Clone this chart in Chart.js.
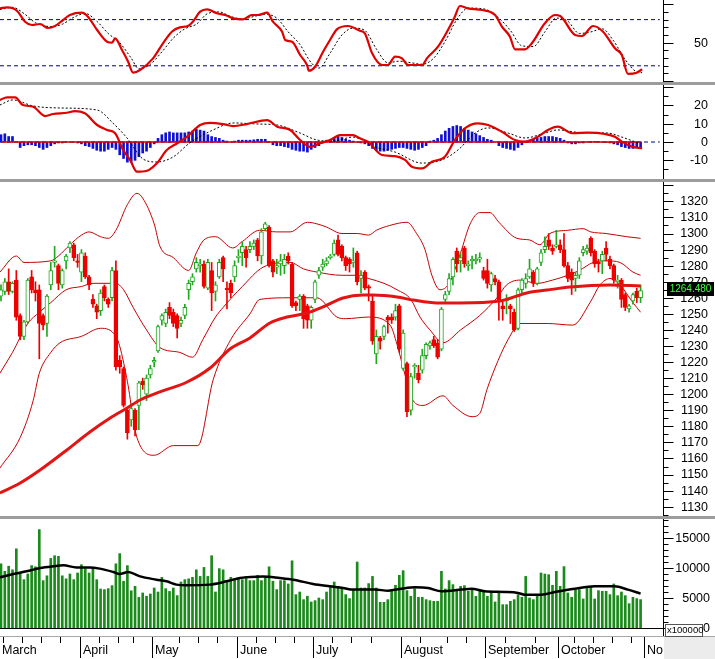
<!DOCTYPE html>
<html>
<head>
<meta charset="utf-8">
<script src="https://cdn.jsdelivr.net/npm/chart.js@4.4.1/dist/chart.umd.min.js"></script>
<style>
  html, body { margin: 0; padding: 0; background: #fff; }
  #wrap { position: relative; width: 715px; height: 659px; overflow: hidden; background: #fff; }
  #wrap canvas { position: absolute; left: 0; }
  .sep { position: absolute; left: 0; width: 715px; height: 3px; background: #9c9c9c; }
</style>
</head>
<body>
<div id="wrap">
  <canvas id="stoch" width="715" height="82" style="top:0px"></canvas>
  <div class="sep" style="top:82px"></div>
  <canvas id="macd" width="715" height="94" style="top:85px"></canvas>
  <div class="sep" style="top:179px"></div>
  <canvas id="price" width="715" height="334" style="top:182px"></canvas>
  <div class="sep" style="top:516px"></div>
  <canvas id="volume" width="715" height="140" style="top:519px"></canvas>
</div>
<script>
// ---- data (bar index 0 = first trading day of March) ----
const opens = [1261,1264,1270,1264,1271,1249,1236,1245,1273,1265,1265,1249,1244,1268,1282,1280,1268,1283,1291,1293,
  1283,1276,1286,1273,1259,1255,1252,1267,1259,1260,1277,1221,1216,1190,1184,1190,1193,1208,1200,1212,
  1220,1227,1246,1244,1254,1251,1249,1244,1249,1265,1270,1278,1280,1281,1266,1277,1264,1273,1285,1266,
  1269,1273,1285,1288,1290,1290,1292,1296,1286,1303,1304,1283,1279,1281,1280,1286,1281,1257,1259,1261,
  1255,1246,1259,1274,1279,1281,1285,1287,1296,1292,1285,1284,1282,1288,1272,1276,1267,1258,1225,1235,
  1236,1248,1248,1248,1255,1216,1219,1190,1217,1213,1215,1224,1230,1234,1232,1228,1259,1264,1273,1289,
  1283,1291,1280,1283,1283,1284,1277,1277,1268,1272,1270,1255,1258,1255,1251,1241,1265,1269,1273,1276,
  1269,1282,1290,1296,1291,1292,1293,1290,1280,1276,1272,1274,1288,1289,1297,1289,1282,1283,1291,1284,
  1280,1270,1271,1262,1253,1258,1264,1260];
const highs = [1268,1272,1278,1270,1277,1250,1246,1272,1277,1270,1268,1250,1262,1282,1292,1281,1278,1287,1295,1294,
  1287,1290,1288,1274,1262,1256,1265,1268,1260,1279,1283,1224,1217,1191,1194,1191,1208,1210,1212,1218,
  1223,1243,1250,1253,1257,1253,1250,1248,1256,1271,1275,1285,1284,1283,1284,1282,1270,1284,1286,1270,
  1271,1283,1290,1295,1292,1295,1296,1297,1303,1307,1305,1284,1284,1287,1287,1288,1282,1258,1262,1262,
  1256,1255,1271,1279,1284,1285,1287,1296,1299,1293,1286,1285,1291,1289,1277,1277,1268,1262,1240,1236,
  1243,1249,1250,1256,1256,1240,1220,1213,1219,1218,1228,1232,1233,1236,1234,1254,1264,1275,1285,1291,
  1288,1292,1283,1286,1287,1288,1279,1284,1276,1274,1271,1258,1262,1256,1253,1266,1272,1275,1284,1277,
  1279,1290,1298,1300,1293,1302,1296,1300,1282,1278,1276,1285,1292,1293,1298,1290,1284,1289,1295,1286,
  1281,1274,1272,1263,1256,1263,1266,1268];
const lows = [1258,1262,1262,1263,1246,1234,1234,1244,1263,1258,1222,1240,1236,1265,1279,1265,1266,1278,1288,1283,
  1279,1270,1272,1265,1254,1247,1249,1258,1254,1258,1215,1213,1192,1172,1180,1174,1178,1203,1196,1210,
  1217,1226,1243,1242,1247,1242,1235,1242,1247,1259,1268,1276,1276,1266,1265,1252,1258,1272,1270,1253,
  1260,1270,1282,1280,1279,1288,1290,1283,1281,1302,1279,1273,1275,1274,1275,1281,1254,1252,1252,1241,
  1241,1241,1257,1272,1277,1280,1284,1286,1286,1283,1277,1276,1279,1268,1263,1265,1258,1231,1219,1228,
  1234,1238,1244,1246,1226,1215,1186,1187,1210,1207,1213,1222,1228,1229,1222,1227,1257,1262,1268,1276,
  1276,1279,1277,1278,1281,1282,1271,1266,1264,1268,1246,1246,1250,1244,1239,1240,1263,1266,1272,1267,
  1268,1280,1288,1290,1287,1291,1288,1279,1270,1262,1264,1272,1286,1287,1286,1279,1276,1275,1283,1278,
  1269,1266,1254,1252,1251,1256,1257,1257];
const closes = [1265,1270,1264,1269,1248,1236,1245,1271,1265,1263,1244,1243,1261,1277,1283,1269,1277,1286,1294,1285,
  1282,1288,1273,1268,1256,1251,1263,1260,1256,1277,1217,1217,1193,1176,1191,1178,1207,1206,1210,1216,
  1221,1242,1249,1251,1249,1244,1241,1246,1254,1269,1273,1282,1281,1267,1282,1263,1268,1282,1278,1265,
  1263,1280,1286,1292,1285,1292,1294,1286,1301,1306,1280,1276,1280,1283,1284,1283,1255,1255,1261,1247,
  1246,1254,1270,1277,1281,1283,1286,1294,1287,1285,1280,1281,1283,1270,1274,1266,1266,1233,1236,1233,
  1242,1246,1246,1252,1228,1238,1189,1211,1218,1209,1224,1231,1232,1230,1223,1253,1262,1272,1284,1281,
  1285,1281,1281,1284,1284,1285,1272,1269,1275,1270,1258,1253,1259,1253,1240,1265,1271,1272,1278,1269,
  1278,1288,1292,1292,1289,1293,1290,1280,1272,1271,1274,1283,1290,1291,1288,1281,1281,1287,1287,1280,
  1271,1271,1259,1254,1255,1262,1260,1264.48];

const volumes = [10700,9450,10300,9700,13200,9300,8060,9000,10400,10200,16400,7900,8700,11600,12050,11950,8700,8200,9000,8060,
  9170,10550,9900,9170,10100,8060,6500,6400,6560,7060,10700,12400,7800,10400,6200,6950,5100,5840,5300,5670,
  6670,6000,8450,6560,6100,6670,5400,7670,8060,8200,8450,9700,8600,10100,8600,12050,6000,9900,9700,7800,
  8450,8200,8170,8060,8600,7900,7900,8780,7900,8600,10200,7800,6400,7900,7900,7340,11200,5560,6000,4730,
  5300,4340,4560,5000,4730,6000,6780,7670,6950,6560,5560,4900,6400,11000,
  6670,6670,7400,8600,6670,4280,4280,4730,6230,7120,8780,9560,6230,5280,6560,5120,5120,4730,4560,4450,
  4450,9450,6500,7900,7230,6120,6950,7060,6120,6560,5280,6230,6120,5280,6120,4340,6000,3890,3890,4450,
  4730,5560,5120,8600,5000,4730,5280,9170,9000,8890,7120,9450,6950,10230,5840,5120,6400,6400,4840,6670,
  6950,4840,6230,6120,6120,5560,7340,5390,6000,5390,4060,5120,4900,4730];

const macdHist = [4,4.5,3,3,0,-3,-2,-1.5,-1.5,-2,-3,-4,-3,-2,-1,-0.5,-0.5,0,0,0,
  -0.5,-1,-2,-2.5,-3.5,-4.5,-5,-5,-4,-3,-4,-7,-9,-11,-11,-10,-8,-6,-5,-3,
  -1,2,4,5,5.5,5,5,5,5,5.5,6,7,6.5,6,4,3,2.5,2,1,0.5,
  0,0.5,1,1,1,1,1.2,1.5,1.5,1.5,0,-1.5,-2,-2,-2.5,-3,-4,-4.5,-5,-5,
  -5.5,-4,-3,-2,-0.5,1,1.5,2.5,3,2.5,1.5,1,0.5,
  0,-0.5,-1,-2,-3.5,-4.5,-5,-5,-4.5,-4,-3.5,-3,-3,-3.5,-4,-4.5,-4,-3,-2,
  0.5,1,2,4,6,7.5,8.5,9,8.5,7.5,6.5,5.5,4.5,3.5,2.5,1.5,1,0,
  -2,-3,-3.5,-4,-4.5,-3,-1.5,0.5,1,1.5,2,2.5,3,3,3,2.5,2,1,
  -0.5,-1,-1,-0.5,-0.5,0,0.3,0.3,0.3,0,-0.3,-0.5,-1,-1.5,-2.5,-3,-3.5,-3.5,-3,-3];

// indicator lines: [bar index, value]
const bbUpper = [[-0.3,1276],[4,1286],[6,1282],[13,1283],[15,1286],[18,1293],[21,1299],[23,1301],[26,1298],[28,1297],
  [30,1302],[33,1318],[35.5,1325],[37,1322],[40,1306],[41.5,1292],[45,1285],[49,1277],[51,1288],[53,1296],[56,1298],
  [60.5,1291],[63,1295],[67.5,1302],[72,1301],[75.5,1301],[80,1307],[82.5,1306],[85,1304],[89,1300],[93,1300],
  [96,1299],[98,1302],[101.5,1305],[106,1307],[108.5,1300],[110.7,1290],[112.5,1274],[114.6,1265],[117,1269],
  [120,1288],[122.5,1306],[125,1313],[127.7,1313],[130,1307],[134.7,1297],[138,1296],[140.7,1293],[143.3,1300],
  [148,1302],[152,1303],[154,1301],[158,1300],[163.4,1298],[167,1297]];
const bbMiddle = [[-0.3,1213],[3,1226],[7,1244],[10,1251],[13,1257],[17,1265],[21,1267],[24,1269],[30,1269],[32,1265],
  [34.5,1254],[38,1240],[41.5,1229],[46.7,1226],[50,1223],[52.7,1234],[56,1248],[58,1254],[63,1267],[68.4,1279],
  [75.5,1282],[79,1278],[82.5,1276],[89,1274],[93,1274],[96,1272],[100,1269],[103.4,1265],[107,1259],[109.4,1248],
  [112,1240],[115.4,1232],[120,1240],[125,1249],[129.5,1260],[132,1268],[135.5,1271],[140,1269],[144,1271],
  [148,1274],[151,1277],[154.6,1282],[158,1283],[161.6,1282],[165,1276],[167,1274]];
const bbLower = [[-0.3,1154],[5,1173],[8.4,1196],[10,1213],[13,1226],[15.4,1232],[21,1236],[26,1241],[30,1236],
  [33,1208],[34.5,1185],[35.5,1173],[40,1162],[45,1168],[51.4,1168],[55.4,1209],[60,1234],[65,1250],[67.6,1259],
  [75.5,1260],[82.5,1260],[87.7,1248],[90,1247],[96,1248],[101.6,1243],[103.4,1231],[105.5,1212],[107.6,1196],
  [110.2,1193],[115.4,1199],[118,1193],[123,1186],[125,1188],[126.9,1203],[129.8,1221],[132.4,1234],[135.5,1244],
  [142.6,1244],[149.3,1243],[153.8,1257],[156.4,1268],[159,1272],[161.6,1268],[165,1257],[167,1251]];
const ma100 = [[-0.3,1138.5],[5,1144.7],[10.2,1152.8],[17.2,1165.3],[23.2,1176.5],[28.5,1185.2],[32.9,1191.4],
  [36.3,1196.4],[41.5,1201.4],[48.6,1207.6],[54.6,1216.3],[59.8,1228.1],[65,1235],[70.2,1244.3],[74.7,1248],
  [79.9,1250.5],[84.1,1254.3],[89.3,1259.9],[94.5,1261.7],[97.1,1261.7],[103.4,1260.5],[107.6,1258.6],
  [113.8,1256.8],[119.8,1256.8],[130.3,1258],[137.3,1263],[142.6,1264.8],[148.6,1266.7],[159,1268],[167,1267.3]];

const stochK = [[-0.3,94.7],[1.6,96],[3.1,94.7],[4.4,90.3],[6.3,77.3],[8.1,73],[10.2,74.3],[12.3,69.1],[14.1,71.7],
  [16.2,79.5],[18,86],[21.1,89],[22.7,83.8],[25.1,66.5],[27.7,51.3],[29,50],[29.8,55.7],[31.6,40.5],[33.2,25.3],
  [34.5,11],[36.3,14.5],[39.7,29.7],[42.3,49.2],[44.6,64.3],[46.7,70],[48.8,71.7],[50.1,77.3],[52,90.3],[53.8,93.4],
  [56.4,88.2],[58.5,86],[60.6,81.7],[63.2,80.4],[65.5,86],[67.1,86],[69.5,89],[71,77.3],[73.4,64.3],[74.2,53.5],
  [76,51.3],[78.1,34],[79.9,21],[80.4,13.6],[82,18.8],[84.1,38.3],[85.9,53.5],[87.7,67.4],[90.6,71.7],[93.7,65.6],
  [95,62.2],[96.9,36.2],[99.5,21],[101,21],[102.9,31.8],[104.7,29.7],[106.3,21],[110,21],[111.2,29.7],[114.1,44.8],
  [116.7,66.5],[118.5,83.8],[119.8,97.7],[121.9,94.7],[125.6,92.5],[129,86],[130.8,70.8],[132.9,57.8],[134.2,41.4],
  [136.8,41.4],[138.6,49.2],[142,75.2],[144.6,86],[146,84.7],[149.9,60],[151.7,58.7],[154.6,71.7],[157.2,64.3],
  [160.3,42.7],[162.1,34],[163.7,9.4],[166,11],[167.4,15.5]];
const stochD = [[-0.3,93],[3,96],[6,88],[9,76],[13,71],[16,74],[19,83],[22,88],[25,78],[28,62],[31,50],[34,30],[36,16],
  [39,22],[42,38],[45,56],[48,68],[51,74],[54,88],[57,90],[60,84],[63,81],[66,84],[69,87],[72,82],[75,64],[78,48],
  [81,24],[83,17],[86,37],[89,60],[92,69],[95,66],[98,42],[101,24],[104,26],[107,24],[110,22],[113,30],[116,52],
  [119,80],[122,95],[126,94],[130,82],[133,66],[136,46],[139,45],[142,64],[145,82],[148,78],[151,62],[154,64],
  [157,68],[160,52],[163,28],[166,12],[167.4,11]];

const macdLine = [[-0.3,23],[1.6,24.4],[3.7,24.4],[5.7,20.2],[8.4,19.3],[11.5,14.2],[13.6,15.3],[17.2,16],[19.3,16.9],
  [21.9,15.7],[25.1,9.3],[27.7,6.6],[29.8,4.8],[31.9,-4.4],[33.7,-9.8],[35.5,-16.2],[38.1,-15.7],[40.7,-11.6],
  [43.3,-4.4],[46,-0.7],[48.6,2.9],[52,9.3],[54.6,10.5],[58,9.8],[60.6,8.7],[64.2,9.8],[69.5,12],[72.1,8.4],
  [75.5,6.6],[78.1,1.1],[80.7,-2.6],[83.3,-0.7],[85.9,1.1],[88.5,3.8],[91.9,3.8],[93.7,2],[95.8,0.2],[99.5,-7.1],
  [102.9,-7.7],[105.5,-9.8],[107.3,-13.5],[110,-14.4],[112.5,-10.8],[115.9,-8],[118.5,1.1],[121.1,7.5],[124.5,10.2],
  [127.2,9.3],[130.8,5.6],[134.2,1.1],[136.8,0.2],[140.2,2.9],[142.8,6.6],[145.4,8.4],[149.1,4.8],[153.3,5.1],
  [157.7,4.4],[160.3,2.9],[162.1,0.2],[164.8,-2.6],[167.4,-3.4]];
const signalLine = [[-0.3,20.2],[3.1,23],[8.4,19.7],[15.4,18.6],[25.1,17.5],[29.2,10.4],[32.9,2.2],[37.1,-9.3],
  [40.7,-10.9],[44.9,-8.2],[49.3,-0.5],[55.4,6.6],[60.6,10.4],[67.6,9.8],[72.1,9.3],[78.1,4.9],[82.5,1.1],[86.7,0.5],
  [91.9,2.7],[97.7,-2.7],[102.9,-5.5],[109.9,-11.5],[115.1,-9.8],[119.3,-4.4],[123.8,4.9],[127.2,7.7],[132.4,4.9],
  [136.8,2.2],[142,4.9],[145.4,6.6],[151.7,5.1],[158.5,4.9],[162.1,2.7],[166.3,-0.5]];

const volMA = [[-0.3,8450],[3.2,9000],[6.7,9450],[10.2,10000],[13.7,10300],[16.3,10450],[19.7,10100],[23.2,10100],
  [25.8,9900],[29.3,9340],[31,9000],[33.2,9340],[36.3,8600],[40.6,8060],[43.2,7780],[45.8,7230],[48.4,7120],
  [54.5,7230],[58.9,7780],[62.4,8340],[68.4,8600],[72.8,8340],[76.3,8060],[81.5,7340],[85.8,6950],[89.3,6670],
  [91.9,6400],[97.6,6400],[101.1,6230],[104.6,6560],[108.1,6780],[111.5,6670],[115,6120],[120.2,6400],[122.8,6560],
  [126.3,6120],[131.5,6000],[135,5840],[136.7,5560],[141.1,5560],[144.6,6000],[149.8,6560],[155,6950],[160.2,6950],
  [163.7,6400],[167,5730]];

const months = ['March','April','May','June','July','August','September','October','November'];
const monthPos = [-0.5,20.5,39.5,61.5,81.5,104.5,126.5,145.5,168];
const weekPos = [0.5,5.5,10.5,15.5,25.5,30.5,34.5,46.5,51.5,56.5,66.5,71.5,76.5,86.5,91.5,96.5,109.5,116.5,
  121.5,131.5,139.5,149.5,154.5,159.5,164.5];

const stochLevels = [80, 20];
const stochLabels = [50];
const priceLabels = [1130,1140,1150,1160,1170,1180,1190,1200,1210,1220,1230,1240,1250,1260,1270,1280,1290,1300,1310,1320];
const macdLabels = [-10,0,10,20];
const volLabels = [0,5000,10000,15000];

// ---- layout ----
const X_MIN = -0.26, X_MAX = 172.85;
const AXIS_W = 52;
const FONT = '"Liberation Sans", Arial, sans-serif';
const GREEN = '#1fa81f', RED = '#ee0000', NAVY = '#000080';

Chart.defaults.font.family = FONT;

const pts = arr => arr.map(([x, y]) => ({ x, y }));

// right-hand value axis: line, long ticks, short ticks, right-aligned labels
const axisPainter = {
  id: 'axisPainter',
  afterDraw(chart, args, o) {
    const y = chart.scales.y, ctx = chart.ctx, area = chart.chartArea;
    const ax = Math.round(area.right) + 0.5;
    const tick = (v, len) => {
      const py = Math.round(y.getPixelForValue(v)) + 0.5;
      ctx.beginPath(); ctx.moveTo(ax, py); ctx.lineTo(ax + len, py); ctx.stroke();
    };
    ctx.save();
    ctx.strokeStyle = '#000';
    ctx.lineWidth = 1;
    ctx.beginPath(); ctx.moveTo(ax, area.top); ctx.lineTo(ax, area.bottom + (o.axisExtra || 0)); ctx.stroke();
    for (let v = Math.ceil(y.min / o.minor) * o.minor; v <= y.max; v += o.minor) tick(v, 5);
    for (let v = Math.ceil(y.min / o.major) * o.major; v <= y.max; v += o.major) tick(v, 10);
    ctx.fillStyle = '#000';
    ctx.font = '12.5px ' + FONT;
    ctx.textAlign = 'right';
    ctx.textBaseline = 'middle';
    o.labels.forEach(v => ctx.fillText(String(v), o.edge, y.getPixelForValue(v) + 0.5));
    ctx.restore();
  }
};

function baseOptions(yMin, yMax, axis, padding) {
  return {
    responsive: false, animation: false, devicePixelRatio: 1,
    layout: { padding: padding || 0, autoPadding: false },
    plugins: { legend: { display: false }, tooltip: { enabled: false }, axisPainter: axis },
    scales: {
      x: { type: 'linear', min: X_MIN, max: X_MAX, display: false, offset: false },
      y: {
        position: 'right', min: yMin, max: yMax, beginAtZero: false,
        afterFit: s => { s.width = AXIS_W; },
        border: { display: false }, grid: { display: false }, ticks: { display: false }
      }
    }
  };
}

function lineSet(data, color, width, dash, order) {
  return {
    type: 'line', data: pts(data), borderColor: color, borderWidth: width, borderDash: dash || [],
    pointRadius: 0, cubicInterpolationMode: 'monotone', fill: false, order: order || 0
  };
}

const idx = closes.map((_, i) => i);
const candleColor = idx.map(i => closes[i] >= opens[i] ? GREEN : RED);

// ---- stochastic ----
new Chart(document.getElementById('stoch'), {
  type: 'line',
  data: {
    datasets: [
      lineSet(stochK, '#e00000', 2.2, null, 0),
      lineSet(stochD, '#000', 1, [2, 2], 1),
      ...stochLevels.map(l => lineSet([[X_MIN, l], [172, l]], NAVY, 1, [4, 3], 2))
    ]
  },
  options: baseOptions(-1.06, 105.5, { major: 50, minor: 10, labels: stochLabels, edge: 708 }),
  plugins: [axisPainter]
});

// ---- MACD ----
new Chart(document.getElementById('macd'), {
  type: 'bar',
  data: {
    datasets: [
      lineSet(macdLine, '#e00000', 2.2, null, 0),
      lineSet(signalLine, '#000', 1, [2, 2], 1),
      lineSet([[0, 0], [167, 0]], '#e00000', 1.5, null, 2),
      lineSet([[X_MIN, 0], [172, 0]], NAVY, 1, [4, 3], 4),
      {
        type: 'bar', data: idx.map(i => ({ x: i, y: macdHist[i] })), backgroundColor: '#1010d0',
        barThickness: 2, grouped: false, order: 3
      }
    ]
  },
  options: baseOptions(-20.2, 31.15, { major: 10, minor: 5, labels: macdLabels, edge: 708 }),
  plugins: [axisPainter]
});

// ---- price ----
const lastPriceTag = {
  id: 'lastPriceTag',
  afterDraw(chart) {
    const y = chart.scales.y, ctx = chart.ctx;
    const v = closes[closes.length - 1];
    const py = Math.round(y.getPixelForValue(v)) - 2;
    ctx.save();
    ctx.fillStyle = '#000';
    ctx.fillRect(667, py - 7, 47, 14);
    ctx.fillStyle = '#3cff3c';
    ctx.font = '10px ' + FONT;
    ctx.textBaseline = 'middle';
    ctx.textAlign = 'center';
    ctx.fillText(v.toFixed(3), 690.5, py + 0.5);
    ctx.restore();
  }
};

new Chart(document.getElementById('price'), {
  type: 'bar',
  data: {
    datasets: [
      lineSet(ma100, '#e31414', 3, null, 0),
      {
        type: 'bar', data: idx.map(i => ({ x: i, y: [opens[i], closes[i]] })),
        backgroundColor: idx.map(i => closes[i] >= opens[i] ? '#fff' : RED),
        borderColor: candleColor, borderWidth: 1, borderSkipped: false,
        barThickness: 4, minBarLength: 1, grouped: false, order: 1
      },
      {
        type: 'bar', data: idx.map(i => ({ x: i, y: [lows[i], highs[i]] })),
        backgroundColor: candleColor, barThickness: 1, grouped: false, order: 2
      },
      lineSet(bbUpper, '#c40000', 1, null, 3),
      lineSet(bbMiddle, '#c40000', 1, null, 3),
      lineSet(bbLower, '#c40000', 1, null, 3)
    ]
  },
  options: baseOptions(1124.2, 1332.05, { major: 10, minor: 5, labels: priceLabels, edge: 708 }),
  plugins: [axisPainter, lastPriceTag]
});

// ---- volume + date axis ----
const dateAxis = {
  id: 'dateAxis',
  afterDraw(chart) {
    const ctx = chart.ctx, x = chart.scales.x, area = chart.chartArea;
    const base = area.bottom, top = base + 8;
    ctx.save();
    ctx.strokeStyle = '#000';
    ctx.lineWidth = 1;
    ctx.beginPath(); ctx.moveTo(0, base + 0.5); ctx.lineTo(area.right, base + 0.5); ctx.stroke();
    ctx.strokeStyle = '#a8a8a8';
    ctx.beginPath(); ctx.moveTo(0, top + 0.5); ctx.lineTo(715, top + 0.5); ctx.stroke();
    ctx.fillStyle = '#ececec';
    ctx.fillRect(area.right + 1, top + 1, 60, 30);
    // x100000 box
    ctx.fillStyle = '#fff';
    ctx.fillRect(665.5, base - 3.5, 37, 12);
    ctx.strokeStyle = '#555';
    ctx.strokeRect(665.5, base - 3.5, 37, 12);
    ctx.fillStyle = '#000';
    ctx.font = '9.5px ' + FONT;
    ctx.textBaseline = 'middle';
    ctx.fillText('x100000', 667, base + 2.5);
    // ticks and month names
    ctx.beginPath(); ctx.rect(0, top, area.right, 40); ctx.clip();
    ctx.strokeStyle = '#000';
    weekPos.forEach(w => {
      const px = Math.round(x.getPixelForValue(w)) + 0.5;
      ctx.beginPath(); ctx.moveTo(px, top + 1); ctx.lineTo(px, top + 7); ctx.stroke();
    });
    ctx.font = '12.5px ' + FONT;
    ctx.textBaseline = 'alphabetic';
    months.forEach((m, k) => {
      const px = Math.round(x.getPixelForValue(monthPos[k])) + 0.5;
      ctx.beginPath(); ctx.moveTo(px, top + 1); ctx.lineTo(px, top + 22); ctx.stroke();
      ctx.fillText(m, px + 2.5, top + 18);
    });
    ctx.restore();
  }
};

new Chart(document.getElementById('volume'), {
  type: 'bar',
  data: {
    datasets: [
      lineSet(volMA, '#000', 2.5, null, 0),
      {
        type: 'bar', data: idx.map(i => ({ x: i, y: volumes[i] })), backgroundColor: '#1a8a1a',
        barThickness: 2, grouped: false, order: 1
      }
    ]
  },
  options: baseOptions(0, 18170, { major: 5000, minor: 1000, labels: volLabels, edge: 710, axisExtra: 8 }, { bottom: 31 }),
  plugins: [axisPainter, dateAxis]
});
</script>
</body>
</html>
